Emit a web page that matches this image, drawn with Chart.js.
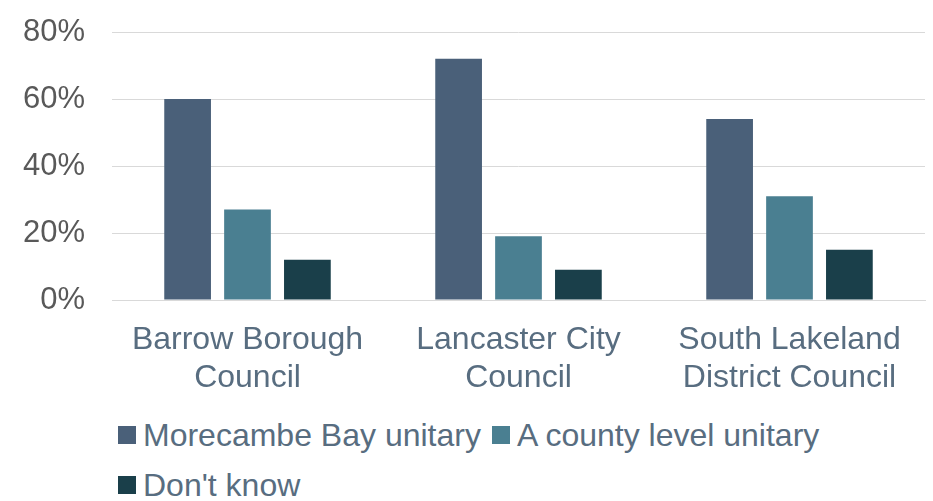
<!DOCTYPE html>
<html>
<head>
<meta charset="utf-8">
<script src="https://cdn.jsdelivr.net/npm/chart.js@4"></script>
<style>
  body { margin: 0; background: #fff; font-family: "Liberation Sans", Arial, sans-serif; }
  #wrap { position: relative; width: 933px; height: 501px; }
  #legend { position: absolute; left: 118px; top: 410px; width: 720px; display: flex; flex-wrap: wrap; }
  .item { display: flex; align-items: center; height: 50px; margin-right: 11px; font-size: 32px; color: #586d80; white-space: nowrap; }
  .box { width: 18px; height: 18px; margin-right: 7px; }
</style>
</head>
<body>
<div id="wrap">
  <canvas id="chart" width="933" height="410" style="width:933px;height:410px;display:block"></canvas>
  <div id="legend"></div>
</div>
<script>
// councils along the x axis
const councils = [['Barrow Borough', 'Council'], ['Lancaster City', 'Council'], ['South Lakeland', 'District Council']];
const seriesNames = ['Morecambe Bay unitary', 'A county level unitary', "Don't know"];
const morecambe = [60, 72, 54];
const county = [27, 19, 31];
const dontKnow = [12, 9, 15];
const colours = ['#4a6079', '#4a7f91', '#1a3f4a'];

const ctx = document.getElementById('chart').getContext('2d');
const chart = new Chart(ctx, {
    type: 'bar',
    data: {
        labels: councils,
        datasets: [morecambe, county, dontKnow].map((vals, i) => ({
            label: seriesNames[i],
            data: vals,
            backgroundColor: colours[i],
            categoryPercentage: 0.663,
            barPercentage: 0.78
        }))
    },
    options: {
        responsive: false,
        animation: false,
        layout: { padding: { top: 32, right: 8, bottom: 17, left: 0 } },
        plugins: { legend: { display: false }, tooltip: { enabled: false } },
        scales: {
            x: {
                afterFit: s => { s.height = 93; s.paddingLeft = 0; s.paddingRight = 0; },
                grid: { display: false, drawTicks: false },
                border: { display: true, color: '#d9d9d9', width: 1 },
                ticks: { color: '#586d80', font: { family: 'Liberation Sans', size: 32, lineHeight: 1.16 }, padding: 22, maxRotation: 0 }
            },
            y: {
                min: 0, max: 80,
                afterFit: s => { s.width = 112; s.paddingTop = 0; s.paddingBottom = 0; },
                grid: { color: '#d9d9d9', drawTicks: false },
                border: { display: false },
                ticks: { stepSize: 20, color: '#595959', padding: 27, font: { family: 'Liberation Sans', size: 31 }, callback: v => v + '%' }
            }
        }
    }
});

// legend with rows left aligned, like the original
const legend = document.getElementById('legend');
chart.data.datasets.forEach(ds => {
    const el = document.createElement('div');
    el.className = 'item';
    el.innerHTML = '<span class="box" style="background:' + ds.backgroundColor + '"></span>' + ds.label;
    legend.appendChild(el);
});
</script>
</body>
</html>
